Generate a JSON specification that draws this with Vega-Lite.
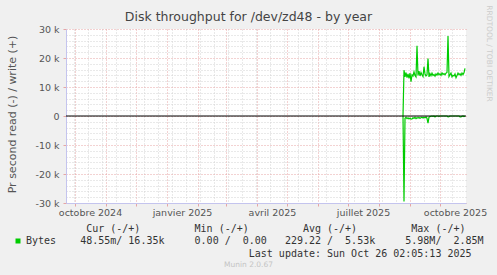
{
  "$schema": "https://vega.github.io/schema/vega-lite/v6.json",
  "width": 400,
  "height": 174,
  "autosize": {"type": "none"},
  "padding": {"left": 66, "top": 29, "right": 31, "bottom": 72},
  "background": "#f0f0f0",
  "title": {"text": "Disk throughput for /dev/zd48 - by year", "font": "DejaVu Sans", "fontSize": 12.5, "fontWeight": "normal", "color": "#444444", "anchor": "middle", "dx": -17.5, "dy": 23, "offset": 4},
  "layer": [
    {
      "data": {"values": [
        {"date": "2025-08-25", "read": 0, "write": 0},
        {"date": "2025-08-26", "read": -29500, "write": 15800},
        {"date": "2025-08-27", "read": -800, "write": 13500},
        {"date": "2025-08-28", "read": -500, "write": 15000},
        {"date": "2025-08-29", "read": -900, "write": 13200},
        {"date": "2025-08-30", "read": -600, "write": 14500},
        {"date": "2025-08-31", "read": -1000, "write": 13000},
        {"date": "2025-09-01", "read": -700, "write": 14800},
        {"date": "2025-09-02", "read": -1100, "write": 11800},
        {"date": "2025-09-03", "read": -1000, "write": 14200},
        {"date": "2025-09-04", "read": -600, "write": 13800},
        {"date": "2025-09-05", "read": -800, "write": 15200},
        {"date": "2025-09-06", "read": -500, "write": 14000},
        {"date": "2025-09-07", "read": -900, "write": 13500},
        {"date": "2025-09-08", "read": -600, "write": 24200},
        {"date": "2025-09-09", "read": -700, "write": 14000},
        {"date": "2025-09-10", "read": -500, "write": 15500},
        {"date": "2025-09-11", "read": -800, "write": 13800},
        {"date": "2025-09-12", "read": -600, "write": 15000},
        {"date": "2025-09-13", "read": -400, "write": 14200},
        {"date": "2025-09-14", "read": -700, "write": 13600},
        {"date": "2025-09-15", "read": -500, "write": 17000},
        {"date": "2025-09-16", "read": -600, "write": 14500},
        {"date": "2025-09-17", "read": -300, "write": 13800},
        {"date": "2025-09-18", "read": -800, "write": 14200},
        {"date": "2025-09-19", "read": -2500, "write": 19800},
        {"date": "2025-09-20", "read": -400, "write": 13500},
        {"date": "2025-09-21", "read": -200, "write": 14600},
        {"date": "2025-09-22", "read": -100, "write": 13900},
        {"date": "2025-09-23", "read": 0, "write": 14800},
        {"date": "2025-09-24", "read": -100, "write": 14000},
        {"date": "2025-09-25", "read": 0, "write": 14300},
        {"date": "2025-09-26", "read": -300, "write": 13700},
        {"date": "2025-09-27", "read": 0, "write": 14500},
        {"date": "2025-09-28", "read": 0, "write": 14100},
        {"date": "2025-09-29", "read": 0, "write": 14800},
        {"date": "2025-09-30", "read": -100, "write": 14200},
        {"date": "2025-10-01", "read": 0, "write": 14600},
        {"date": "2025-10-02", "read": 0, "write": 14000},
        {"date": "2025-10-03", "read": 0, "write": 14900},
        {"date": "2025-10-04", "read": 0, "write": 14300},
        {"date": "2025-10-05", "read": 0, "write": 14600},
        {"date": "2025-10-06", "read": 0, "write": 14200},
        {"date": "2025-10-07", "read": 0, "write": 14800},
        {"date": "2025-10-08", "read": 0, "write": 15000},
        {"date": "2025-10-09", "read": -300, "write": 27600},
        {"date": "2025-10-10", "read": -200, "write": 13600},
        {"date": "2025-10-11", "read": 0, "write": 14200},
        {"date": "2025-10-12", "read": 0, "write": 14800},
        {"date": "2025-10-13", "read": 0, "write": 13500},
        {"date": "2025-10-14", "read": 0, "write": 14000},
        {"date": "2025-10-15", "read": 0, "write": 13800},
        {"date": "2025-10-16", "read": 0, "write": 14500},
        {"date": "2025-10-17", "read": 0, "write": 13200},
        {"date": "2025-10-18", "read": 0, "write": 14000},
        {"date": "2025-10-19", "read": 0, "write": 14800},
        {"date": "2025-10-20", "read": 0, "write": 14200},
        {"date": "2025-10-21", "read": -300, "write": 14600},
        {"date": "2025-10-22", "read": -300, "write": 14000},
        {"date": "2025-10-23", "read": -100, "write": 14800},
        {"date": "2025-10-24", "read": 0, "write": 14300},
        {"date": "2025-10-25", "read": -200, "write": 14900},
        {"date": "2025-10-26", "read": 0, "write": 16400}
      ]},
      "transform": [{"fold": ["read", "write"], "as": ["dir", "value"]}],
      "mark": {"type": "line", "strokeWidth": 1.2},
      "encoding": {
        "x": {
          "field": "date", "type": "temporal",
          "scale": {"type": "utc", "domain": [{"year": 2024, "month": 9, "date": 22, "utc": true}, {"year": 2025, "month": 10, "date": 27, "utc": true}]},
          "axis": {
            "values": [
              {"year": 2024, "month": 10, "date": 1, "utc": true},
              {"year": 2024, "month": 11, "date": 1, "utc": true},
              {"year": 2024, "month": 12, "date": 1, "utc": true},
              {"year": 2025, "month": 1, "date": 1, "utc": true},
              {"year": 2025, "month": 2, "date": 1, "utc": true},
              {"year": 2025, "month": 3, "date": 1, "utc": true},
              {"year": 2025, "month": 4, "date": 1, "utc": true},
              {"year": 2025, "month": 5, "date": 1, "utc": true},
              {"year": 2025, "month": 6, "date": 1, "utc": true},
              {"year": 2025, "month": 7, "date": 1, "utc": true},
              {"year": 2025, "month": 8, "date": 1, "utc": true},
              {"year": 2025, "month": 9, "date": 1, "utc": true},
              {"year": 2025, "month": 10, "date": 1, "utc": true},
              {"year": 2024, "month": 9, "date": 30, "utc": true},
              {"year": 2024, "month": 10, "date": 14, "utc": true},
              {"year": 2024, "month": 10, "date": 28, "utc": true},
              {"year": 2024, "month": 11, "date": 11, "utc": true},
              {"year": 2024, "month": 11, "date": 25, "utc": true},
              {"year": 2024, "month": 12, "date": 9, "utc": true},
              {"year": 2024, "month": 12, "date": 23, "utc": true},
              {"year": 2025, "month": 1, "date": 6, "utc": true},
              {"year": 2025, "month": 1, "date": 20, "utc": true},
              {"year": 2025, "month": 2, "date": 3, "utc": true},
              {"year": 2025, "month": 2, "date": 17, "utc": true},
              {"year": 2025, "month": 3, "date": 3, "utc": true},
              {"year": 2025, "month": 3, "date": 17, "utc": true},
              {"year": 2025, "month": 3, "date": 31, "utc": true},
              {"year": 2025, "month": 4, "date": 14, "utc": true},
              {"year": 2025, "month": 4, "date": 28, "utc": true},
              {"year": 2025, "month": 5, "date": 12, "utc": true},
              {"year": 2025, "month": 5, "date": 26, "utc": true},
              {"year": 2025, "month": 6, "date": 9, "utc": true},
              {"year": 2025, "month": 6, "date": 23, "utc": true},
              {"year": 2025, "month": 7, "date": 7, "utc": true},
              {"year": 2025, "month": 7, "date": 21, "utc": true},
              {"year": 2025, "month": 8, "date": 4, "utc": true},
              {"year": 2025, "month": 8, "date": 18, "utc": true},
              {"year": 2025, "month": 9, "date": 15, "utc": true},
              {"year": 2025, "month": 9, "date": 29, "utc": true},
              {"year": 2025, "month": 10, "date": 13, "utc": true},
              {"year": 2024, "month": 10, "date": 16, "utc": true},
              {"year": 2025, "month": 1, "date": 16, "utc": true},
              {"year": 2025, "month": 4, "date": 16, "utc": true},
              {"year": 2025, "month": 7, "date": 16, "utc": true},
              {"year": 2025, "month": 10, "date": 16, "utc": true}
            ],
            "labelExpr": "utcdate(datum.value) == 16 ? (['janvier','février','mars','avril','mai','juin','juillet','août','septembre','octobre','novembre','décembre'][utcmonth(datum.value)] + ' ' + utcyear(datum.value)) : ''",
            "labelOverlap": false,
            "labelFlush": false,
            "labelBound": false,
            "labelPadding": 1,
            "labelFontSize": 9.5,
            "labelColor": "#555555",
            "tickSize": 3,
            "tickColor": {"condition": {"test": "utcdate(datum.value) == 1", "value": "#e6a5a5"}, "value": "transparent"},
            "grid": true,
            "gridColor": {"condition": {"test": "utcdate(datum.value) == 1", "value": "#e6a5a5"}, "value": "#d2d2d2"},
            "gridOpacity": {"condition": {"test": "utcdate(datum.value) == 16", "value": 0}, "value": 1},
            "gridDash": [1, 2],
            "domainColor": "#c4c4ee",
            "title": "Munin 2.0.67",
            "titleX": 182,
            "titleY": 61,
            "titleAlign": "center",
            "titleBaseline": "middle",
            "titleFontSize": 7.5,
            "titleFontWeight": "normal",
            "titleColor": "#c4c4c4"
          }
        },
        "y": {
          "field": "value", "type": "quantitative",
          "scale": {"domain": [-30000, 30000], "nice": false, "zero": false},
          "axis": {
            "values": [-30000, -28000, -26000, -24000, -22000, -20000, -18000, -16000, -14000, -12000, -10000, -8000, -6000, -4000, -2000, 0, 2000, 4000, 6000, 8000, 10000, 12000, 14000, 16000, 18000, 20000, 22000, 24000, 26000, 28000, 30000],
            "labelExpr": "datum.value % 10000 != 0 ? '' : (datum.value == 0 ? '0' : (datum.value / 1000) + ' k')",
            "labelFontSize": 9.5,
            "labelColor": "#555555",
            "labelPadding": 4,
            "labelOverlap": false,
            "tickSize": 3,
            "tickColor": {"condition": {"test": "datum.value % 10000 == 0", "value": "#e6a5a5"}, "value": "transparent"},
            "grid": true,
            "gridColor": {"condition": {"test": "datum.value % 10000 == 0", "value": "#e6a5a5"}, "value": "#d2d2d2"},
            "gridDash": [1, 2],
            "domainColor": "#c4c4ee",
            "title": "Pr second read (-) / write (+)",
            "titleX": -54,
            "titleY": 85,
            "titleAngle": 270,
            "titleAlign": "center",
            "titleBaseline": "middle",
            "titleFontSize": 11,
            "titleFontWeight": "normal",
            "titleColor": "#555555"
          }
        },
        "detail": {"field": "dir"},
        "color": {
          "datum": "Bytes", "type": "nominal",
          "scale": {"domain": ["header", "Bytes", "update"], "range": ["transparent", "#00cc00", "transparent"]},
          "legend": {
            "title": null,
            "orient": "none",
            "legendX": -53,
            "legendY": 194.5,
            "padding": 0,
            "direction": "vertical",
            "symbolType": "square",
            "symbolSize": 6.25,
            "symbolStrokeWidth": 2.5,
            "labelOffset": 3,
            "rowPadding": -1.5,
            "labelFont": "DejaVu Sans Mono",
            "labelFontSize": 10,
            "labelColor": "#333333",
            "labelLimit": 1000,
            "labelExpr": "datum.value == 'header' ? '\u200b\u00a0\u00a0\u00a0\u00a0\u00a0\u00a0\u00a0\u00a0\u00a0\u00a0Cur\u00a0(-/+)\u00a0\u00a0\u00a0\u00a0\u00a0\u00a0\u00a0\u00a0\u00a0Min\u00a0(-/+)\u00a0\u00a0\u00a0\u00a0\u00a0\u00a0\u00a0\u00a0\u00a0Avg\u00a0(-/+)\u00a0\u00a0\u00a0\u00a0\u00a0\u00a0\u00a0\u00a0\u00a0Max\u00a0(-/+)' : (datum.value == 'Bytes' ? 'Bytes\u00a0\u00a0\u00a0\u00a048.55m/\u00a016.35k\u00a0\u00a0\u00a0\u00a0\u00a00.00\u00a0/\u00a0\u00a00.00\u00a0\u00a0\u00a0229.22\u00a0/\u00a0\u00a05.53k\u00a0\u00a0\u00a0\u00a0\u00a05.98M/\u00a0\u00a02.85M' : '\u200b\u00a0\u00a0\u00a0\u00a0\u00a0\u00a0\u00a0\u00a0\u00a0\u00a0\u00a0\u00a0\u00a0\u00a0\u00a0\u00a0\u00a0\u00a0\u00a0\u00a0\u00a0\u00a0\u00a0\u00a0\u00a0\u00a0\u00a0\u00a0\u00a0\u00a0\u00a0\u00a0\u00a0\u00a0\u00a0\u00a0\u00a0Last\u00a0update:\u00a0Sun\u00a0Oct\u00a026\u00a002:05:13\u00a02025')"
          }
        }
      }
    },
    {
      "data": {"values": [{}]},
      "mark": {"type": "rule", "color": "#000000", "strokeWidth": 1},
      "encoding": {
        "y": {
          "datum": 0, "type": "quantitative",
          "scale": {"domain": [-30000, 30000], "nice": false, "zero": false},
          "axis": {
            "orient": "right",
            "labels": false, "ticks": false, "domain": false, "grid": false,
            "title": "RRDTOOL / TOBI OETIKER",
            "titleAngle": 90,
            "titleX": 22.5,
            "titleY": 24,
            "titleAlign": "center",
            "titleBaseline": "middle",
            "titleFontSize": 7.5,
            "titleFontWeight": "normal",
            "titleColor": "#cccccc"
          }
        }
      }
    }
  ],
  "resolve": {"axis": {"y": "independent"}},
  "config": {
    "view": {"fill": "#ffffff", "stroke": null},
    "font": "DejaVu Sans",
    "axis": {"labelFont": "DejaVu Sans", "titleFont": "DejaVu Sans"}
  }
}
